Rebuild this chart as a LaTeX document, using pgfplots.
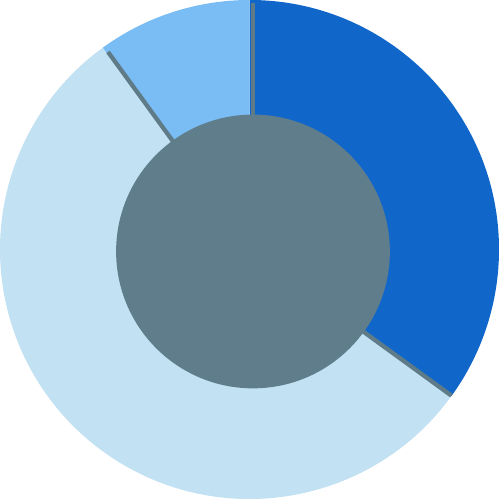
\documentclass[border=0pt]{standalone}
\usepackage{pgfplots}
\usepackage{pgfplotstable}
\pgfplotsset{compat=1.18}

\definecolor{cDark}{HTML}{1167C9}
\definecolor{cLight}{HTML}{C2E1F3}
\definecolor{cMid}{HTML}{7ABDF5}
\definecolor{cHole}{HTML}{607D8B}
\definecolor{cSep}{HTML}{5F7B88}

% slice shares, percent (clockwise from 12 o'clock)
\pgfplotstableread{
label value
A 35
B 55
C 10
}\piedata

\pgfplotstablegetelem{0}{value}\of\piedata \let\vA\pgfplotsretval
\pgfplotstablegetelem{1}{value}\of\piedata \let\vB\pgfplotsretval
\pgfplotstablegetelem{2}{value}\of\piedata \let\vC\pgfplotsretval
\pgfmathsetmacro{\aA}{90}
\pgfmathsetmacro{\aB}{\aA-3.6*\vA}
\pgfmathsetmacro{\aC}{\aB-3.6*\vB}
\pgfmathsetmacro{\aD}{\aC-3.6*\vC}

\begin{document}
\begin{tikzpicture}
\begin{axis}[width=7cm, height=7cm, scale only axis, hide axis,
  xmin=-1.005, xmax=1.005, ymin=-1.005, ymax=1.005, clip=false]
\fill[cDark] (axis cs:0,0) -- ++(\aA:3.5cm) arc[start angle=\aA, end angle=\aB, radius=3.5cm] -- cycle;
\fill[cLight] (axis cs:0,0) -- ++(\aB:3.5cm) arc[start angle=\aB, end angle=\aC, radius=3.5cm] -- cycle;
\fill[cMid] (axis cs:0,0) -- ++(\aC:3.5cm) arc[start angle=\aC, end angle=\aD, radius=3.5cm] -- cycle;
% thin separators between slices
\draw[cSep, line width=1.7pt] (axis cs:0.014,-0.008) ++(\aA:1.8cm) -- ++(\aA:1.69cm);
\draw[cSep, line width=1.7pt] (axis cs:0.014,-0.008) ++(\aB:1.8cm) -- ++(\aB:1.64cm);
\draw[cSep, line width=1.7pt] (axis cs:0.014,-0.008) ++(\aC:1.8cm) -- ++(\aC:1.66cm);
\fill[cHole] (axis cs:0.014,-0.008) circle[radius=1.92cm];
\coordinate (ll) at (axis cs:-1.005,-1.005);
\coordinate (ur) at (axis cs:1.005,1.005);
\end{axis}
\pgfresetboundingbox
\path[use as bounding box] (ll) rectangle (ur);
\end{tikzpicture}
\end{document}
